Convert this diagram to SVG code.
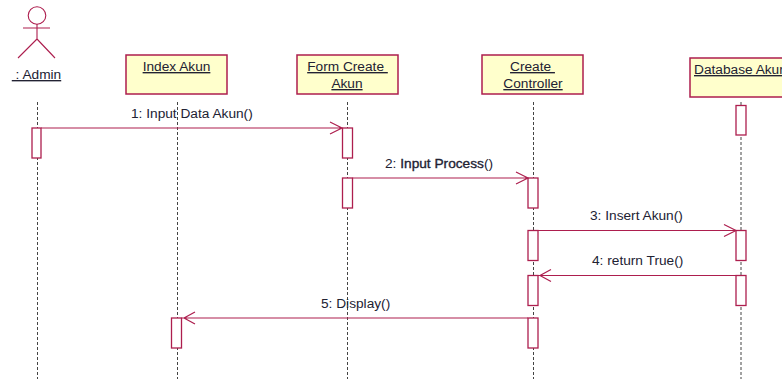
<svg xmlns="http://www.w3.org/2000/svg" width="782" height="379" viewBox="0 0 782 379">
<style>
text{font-family:"Liberation Sans",Arial,sans-serif;font-size:13.7px;fill:#222233}
.u{text-decoration:underline;text-anchor:middle}
.box{fill:#ffffcc;stroke:#ad1e4e;stroke-width:1.5}
.act{fill:#ffffff;stroke:#ad1e4e;stroke-width:1.3}
.life{stroke:#444444;stroke-width:1;stroke-dasharray:3 2;fill:none}
.msg{stroke:#ad1e4e;stroke-width:1.2;fill:none}
.fig{stroke:#ad1e4e;stroke-width:1.1;fill:none}
</style>
<rect width="782" height="379" fill="#ffffff"/>
<g id="lifelines">
<line class="life" x1="37.5" y1="102" x2="37.5" y2="379"/>
<line class="life" x1="177.5" y1="102" x2="177.5" y2="379"/>
<line class="life" x1="347.5" y1="102" x2="347.5" y2="379"/>
<line class="life" x1="533.5" y1="102" x2="533.5" y2="379"/>
<line class="life" x1="741" y1="102" x2="741" y2="379"/>
</g>
<g id="admin">
<circle class="fig" cx="37" cy="15.5" r="8.8"/>
<path class="fig" d="M23 28H50M37 24V39M37 39L18 58M37 39L55 58"/>
<text x="36.500" y="79" class="u" xml:space="preserve"> : Admin</text>
<rect class="act" x="32" y="128" width="9" height="30"/>
</g>
<g id="index-akun">
<rect class="box" x="126" y="55" width="101" height="39"/>
<text x="176.500" y="71" class="u">Index Akun</text>
<rect class="act" x="171.500" y="318" width="10" height="30"/>
</g>
<g id="form-create-akun">
<rect class="box" x="297" y="55" width="101" height="39"/>
<text x="347.500" y="71" class="u" xml:space="preserve">Form Create </text>
<text x="347" y="88" class="u">Akun</text>
<rect class="act" x="342.500" y="128" width="10" height="30"/>
<rect class="act" x="342.500" y="178" width="10" height="30"/>
</g>
<g id="create-controller">
<rect class="box" x="482" y="55" width="101" height="39"/>
<text x="532.500" y="71" class="u" xml:space="preserve">Create </text>
<text x="533" y="88" class="u">Controller</text>
<rect class="act" x="528" y="178" width="10" height="30"/>
<rect class="act" x="528" y="230.500" width="10" height="30"/>
<rect class="act" x="528" y="275.500" width="10" height="30"/>
<rect class="act" x="528" y="318" width="10" height="30"/>
</g>
<g id="database-akun">
<rect class="box" x="690" y="58" width="100" height="39"/>
<text x="694" y="74" style="text-decoration:underline">Database Akun</text>
<rect class="act" x="736" y="105.500" width="10" height="29.500"/>
<rect class="act" x="736" y="230.500" width="10" height="30"/>
<rect class="act" x="736" y="275.500" width="10" height="30"/>
</g>
<g id="connectors">
<path class="msg" d="M41 128H342M330 122L342 128L330 134"/>
<path class="msg" d="M352.500 178H528M516 172L528 178L516 184"/>
<path class="msg" d="M538 230.500H736M724 224.500L736 230.500L724 236.500"/>
<path class="msg" d="M736 275.500H538M551 269.500L540 275.500L551 281.500"/>
<path class="msg" d="M528 318H181.500M195 312L184 318L195 324"/>
</g>
<g id="labels">
<text x="131" y="118">1: Input Data Akun()</text>
<text x="385" y="168" xml:space="preserve">2: <tspan style="stroke:#222233;stroke-width:.35">Input Process</tspan>()</text>
<text x="590" y="220">3: Insert Akun()</text>
<text x="592" y="265">4: return True()</text>
<text x="321" y="308">5: Display()</text>
</g>
</svg>
